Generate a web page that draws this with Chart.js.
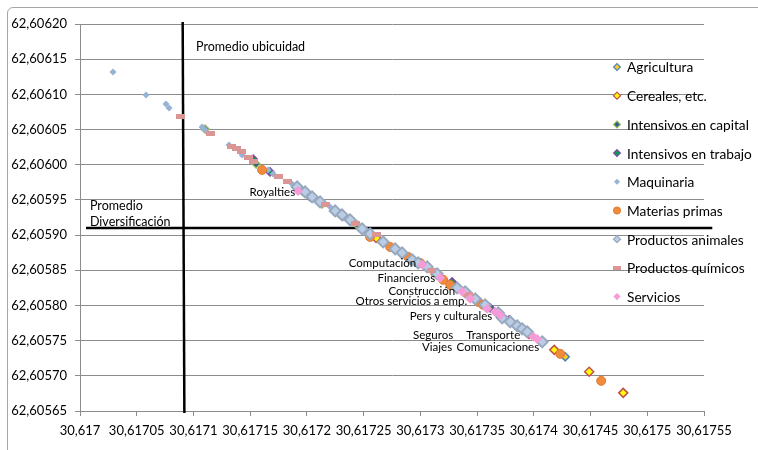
<!DOCTYPE html>
<html>
<head>
<meta charset="utf-8">
<script src="https://cdn.jsdelivr.net/npm/chart.js@4"></script>
<style>
  html, body { margin: 0; padding: 0; background: #fff; width: 758px; height: 450px; overflow: hidden; }
  #frame { position: absolute; left: 7px; top: 7px; width: 800px; height: 500px; border: 1px solid #a6a6a6; border-radius: 6px; }
  #c { position: absolute; left: 0; top: 0; }
</style>
</head>
<body>
<div id="frame"></div>
<canvas id="c" width="758" height="450"></canvas>
<script>
// Axis tick labels
const xTickLabels = ['30,617', '30,61705', '30,6171', '30,61715', '30,6172', '30,61725',
                     '30,6173', '30,61735', '30,6174', '30,61745', '30,6175', '30,61755'];
const yTickLabels = ['62,60565', '62,60570', '62,60575', '62,60580', '62,60585', '62,60590',
                     '62,60595', '62,60600', '62,60605', '62,60610', '62,60615', '62,60620'];

// Series: [diversificación, ubicuidad]
const agricultura = [[30.6174277, 62.6057270], [30.6172980, 62.6058619], [30.6172319, 62.6059273]];
const cereales = [[30.6173959, 62.6057596], [30.6174180, 62.6057369], [30.6174488, 62.6057057],
                  [30.6174788, 62.6056758], [30.6172610, 62.6058960]];
const intensivosCapital = [[30.6171102, 62.6060508], [30.6171552, 62.6060011], [30.6171958, 62.6059628],
                           [30.6172010, 62.6059585], [30.6172134, 62.6059443], [30.6172275, 62.6059315],
                           [30.6172363, 62.6059230], [30.6172443, 62.6059145], [30.6172495, 62.6059088],
                           [30.6172778, 62.6058818]];
const intensivosTrabajo = [[30.6171526, 62.6060082], [30.6171675, 62.6059898], [30.6172028, 62.6059543],
                           [30.6172293, 62.6059301], [30.6173280, 62.6058335], [30.6173615, 62.6057966],
                           [30.6173783, 62.6057795]];
const maquinaria = [[30.6170291, 62.6061318], [30.6170582, 62.6060991], [30.6170758, 62.6060864],
                    [30.6170785, 62.6060807], [30.6171076, 62.6060537], [30.6171093, 62.6060508],
                    [30.6171111, 62.6060480], [30.6171314, 62.6060281], [30.6171429, 62.6060139],
                    [30.6171658, 62.6059926], [30.6171702, 62.6059869], [30.6171869, 62.6059727],
                    [30.6172090, 62.6059514], [30.6172160, 62.6059443], [30.6172205, 62.6059400],
                    [30.6172337, 62.6059258], [30.6172398, 62.6059202], [30.6172513, 62.6059074],
                    [30.6172716, 62.6058861], [30.6172778, 62.6058804], [30.6172954, 62.6058633],
                    [30.6173086, 62.6058506], [30.6173245, 62.6058321], [30.6173439, 62.6058136],
                    [30.6173527, 62.6058037]];
const materiasPrimas = [[30.6171605, 62.6059926], [30.6172557, 62.6058974], [30.6172734, 62.6058832],
                        [30.6172892, 62.6058690], [30.6172998, 62.6058605], [30.6173130, 62.6058463],
                        [30.6173201, 62.6058364], [30.6173263, 62.6058292], [30.6173510, 62.6058051],
                        [30.6173554, 62.6058008], [30.6174233, 62.6057312], [30.6174594, 62.6056929]];
const productosAnimales = [[30.6171914, 62.6059685], [30.6171984, 62.6059614], [30.6172046, 62.6059543],
                           [30.6172116, 62.6059472], [30.6172249, 62.6059344], [30.6172310, 62.6059287],
                           [30.6172381, 62.6059216], [30.6172487, 62.6059088], [30.6172557, 62.6059017],
                           [30.6172672, 62.6058903], [30.6172778, 62.6058804], [30.6172839, 62.6058747],
                           [30.6172928, 62.6058648], [30.6172980, 62.6058605], [30.6173060, 62.6058548],
                           [30.6173148, 62.6058449], [30.6173324, 62.6058250], [30.6173395, 62.6058193],
                           [30.6173483, 62.6058094], [30.6173571, 62.6058008], [30.6173686, 62.6057895],
                           [30.6173721, 62.6057824], [30.6173792, 62.6057767], [30.6173853, 62.6057710],
                           [30.6173898, 62.6057667], [30.6173942, 62.6057625], [30.6174074, 62.6057483]];
const productosQuimicos = [[30.6170882, 62.6060679], [30.6171146, 62.6060437], [30.6171332, 62.6060253],
                           [30.6171376, 62.6060224], [30.6171420, 62.6060182], [30.6171481, 62.6060097],
                           [30.6171526, 62.6060040], [30.6171746, 62.6059827], [30.6171825, 62.6059756],
                           [30.6172160, 62.6059429], [30.6172425, 62.6059159], [30.6172610, 62.6059003],
                           [30.6173095, 62.6058491], [30.6173421, 62.6058150]];
const servicios = [[30.6171922, 62.6059628], [30.6173016, 62.6058577], [30.6173174, 62.6058392],
                   [30.6173368, 62.6058193], [30.6173439, 62.6058094], [30.6173589, 62.6057952],
                   [30.6173659, 62.6057909], [30.6173704, 62.6057866], [30.6173995, 62.6057554],
                   [30.6174030, 62.6057525]];

// Service names written next to their points (right edge, vertical centre)
const serviceLabels = [
  ['Royalties', 30.6171896, 62.6059614],
  ['Computación', 30.6172963, 62.6058601],
  ['Financieros', 30.6173130, 62.6058388],
  ['Construcción', 30.6173307, 62.6058197],
  ['Otros servicios a emp.', 30.6173413, 62.6058065],
  ['Pers y culturales', 30.6173633, 62.6057852],
  ['Seguros', 30.6173289, 62.6057582],
  ['Transporte', 30.6173880, 62.6057582],
  ['Viajes', 30.6173280, 62.6057407],
  ['Comunicaciones', 30.6174047, 62.6057407]
];

// Average lines and their captions
const promedioUbicuidad = [[30.6170905, 62.6062028], [30.6170920, 62.6056472]];
const promedioDiversificacion = [[30.6170053, 62.6059102], [30.6175573, 62.6059102]];
const averageCaptions = [
  ['Promedio ubicuidad', 30.6171023, 62.6061673],
  ['Promedio', 30.6170088, 62.6059415],
  ['Diversificación', 30.6170088, 62.6059187]
];

const toNum = s => parseFloat(s.replace(',', '.'));
const xTicks = xTickLabels.map(toNum);
const yTicks = yTickLabels.map(toNum);
const pts = arr => arr.map(p => ({ x: p[0], y: p[1] }));

// Small horizontal bar marker for "Productos químicos"
function barMarker(w, h, color) {
  const c = document.createElement('canvas');
  c.width = w; c.height = h;
  const g = c.getContext('2d');
  g.fillStyle = color;
  g.fillRect(0, 0, w, h);
  return c;
}

const FONT = 'Lato, "Open Sans", sans-serif';
const gridColor = '#8c8c8c';

const seriesDefs = [
  { label: 'Agricultura', data: agricultura, pointStyle: 'rectRot', radius: 4, bg: '#f7cf1d', border: '#4f81bd', bw: 1.5 },
  { label: 'Cereales, etc.', data: cereales, pointStyle: 'rectRot', radius: 4.5, bg: '#ffff00', border: '#c0504d', bw: 1.5 },
  { label: 'Intensivos en capital', data: intensivosCapital, pointStyle: 'rectRot', radius: 4, bg: '#2f5d8f', border: '#9bbb59', bw: 1.5 },
  { label: 'Intensivos en trabajo', data: intensivosTrabajo, pointStyle: 'rectRot', radius: 4, bg: '#00a050', border: '#7a4a9e', bw: 1.5 },
  { label: 'Maquinaria', data: maquinaria, pointStyle: 'rectRot', radius: 3.5, bg: '#95b3d7', border: '#95b3d7', bw: 0 },
  { label: 'Materias primas', data: materiasPrimas, pointStyle: 'circle', radius: 4.5, bg: '#f08a3c', border: '#e07a2c', bw: 1 },
  { label: 'Productos animales', data: productosAnimales, pointStyle: 'rectRot', radius: 5.5, bg: '#b9cde5', border: '#98a9bf', bw: 2 },
  { label: 'Productos químicos', data: productosQuimicos, pointStyle: barMarker(9, 5, '#d99694'), legendStyle: barMarker(8, 4, '#d99694'), radius: 4, bg: '#d99694', border: '#d99694', bw: 0 },
  { label: 'Servicios', data: servicios, pointStyle: 'rectRot', radius: 5, bg: '#f59bd8', border: '#f59bd8', bw: 0 }
];

const datasets = seriesDefs.map((s, i) => ({
  label: s.label,
  data: pts(s.data),
  pointStyle: s.pointStyle,
  pointRadius: s.radius,
  backgroundColor: s.bg,
  borderColor: s.border,
  borderWidth: s.bw,
  order: seriesDefs.length - i
}));

[promedioUbicuidad, promedioDiversificacion].forEach(line => {
  datasets.push({
    type: 'line',
    data: pts(line),
    borderColor: '#000',
    borderWidth: 2.5,
    pointRadius: 0,
    fill: false,
    clip: false,
    order: 20
  });
});

// Captions for the averages and the service names
const captionsPlugin = {
  id: 'captions',
  afterDatasetsDraw(chart) {
    const { ctx, scales: { x, y } } = chart;
    ctx.save();
    ctx.fillStyle = '#000';
    ctx.textBaseline = 'middle';
    ctx.font = '12.5px ' + FONT;
    ctx.textAlign = 'left';
    averageCaptions.forEach(([t, vx, vy]) => ctx.fillText(t, x.getPixelForValue(vx), y.getPixelForValue(vy)));
    ctx.font = '11.5px ' + FONT;
    ctx.textAlign = 'right';
    serviceLabels.forEach(([t, vx, vy]) => ctx.fillText(t, x.getPixelForValue(vx), y.getPixelForValue(vy)));
    ctx.restore();
  }
};

// Legend drawn on top of the plot area at the right
const legendPlugin = {
  id: 'sideLegend',
  afterDraw(chart, args, opts) {
    const ctx = chart.ctx;
    ctx.save();
    ctx.font = '13.7px ' + FONT;
    ctx.textBaseline = 'middle';
    ctx.textAlign = 'left';
    seriesDefs.forEach((s, i) => {
      const cy = opts.top + i * opts.step;
      const cx = opts.left;
      const r = Math.min(s.radius, 4.2) * 0.85;
      ctx.fillStyle = s.bg;
      ctx.strokeStyle = s.border;
      ctx.lineWidth = Math.min(s.bw, 1.2);
      const style = s.legendStyle || s.pointStyle;
      if (typeof style !== 'string') {
        ctx.drawImage(style, cx - style.width / 2, cy - style.height / 2);
      } else {
        ctx.beginPath();
        if (style === 'circle') {
          ctx.arc(cx, cy, r, 0, Math.PI * 2);
        } else {
          ctx.moveTo(cx, cy - r); ctx.lineTo(cx + r, cy); ctx.lineTo(cx, cy + r); ctx.lineTo(cx - r, cy);
          ctx.closePath();
        }
        ctx.fill();
        if (s.bw > 0) ctx.stroke();
      }
      ctx.fillStyle = '#000';
      ctx.fillText(s.label, cx + 10, cy + 1);
    });
    ctx.restore();
  }
};

new Chart(document.getElementById('c'), {
  type: 'scatter',
  data: { datasets },
  plugins: [captionsPlugin, legendPlugin],
  options: {
    responsive: false,
    animation: false,
    devicePixelRatio: 1,
    layout: { padding: { left: 0, right: 54, top: 24, bottom: 0 } },
    plugins: {
      legend: { display: false },
      tooltip: { enabled: false },
      sideLegend: { left: 617, top: 67, step: 28.7 }
    },
    scales: {
      x: {
        type: 'linear',
        min: xTicks[0],
        max: xTicks[xTicks.length - 1],
        afterBuildTicks: s => { s.ticks = xTicks.map(v => ({ value: v })); },
        afterFit: s => { s.height = 39; },
        ticks: {
          callback: (v, i) => xTickLabels[i],
          autoSkip: false, maxRotation: 0, minRotation: 0,
          padding: 7, color: '#000', font: { family: FONT, size: 13 }
        },
        grid: { drawOnChartArea: false, drawTicks: true, tickLength: 5, color: gridColor },
        border: { display: true, color: gridColor }
      },
      y: {
        type: 'linear',
        min: yTicks[0],
        max: yTicks[yTicks.length - 1],
        afterBuildTicks: s => { s.ticks = yTicks.map(v => ({ value: v })); },
        afterFit: s => { s.width = 80; },
        ticks: {
          callback: (v, i) => yTickLabels[i],
          autoSkip: false,
          padding: 8, color: '#000', font: { family: FONT, size: 13 }
        },
        grid: { drawOnChartArea: true, drawTicks: true, tickLength: 5, color: gridColor },
        border: { display: true, color: gridColor }
      }
    }
  }
});
</script>
</body>
</html>
